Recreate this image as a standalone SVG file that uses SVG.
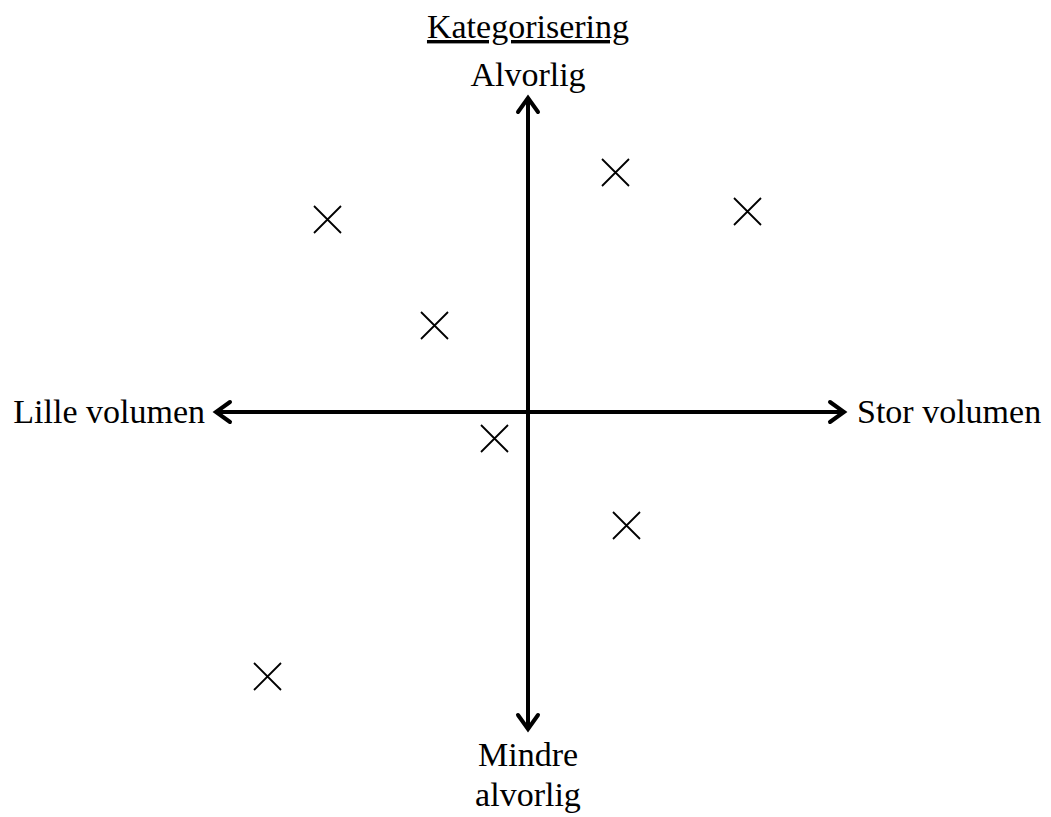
<svg xmlns="http://www.w3.org/2000/svg" width="1051" height="817" viewBox="0 0 1051 817">
<style>
text{font-family:"Liberation Serif","Times New Roman",serif;font-size:34px;fill:#000}
.ax{stroke:#000;stroke-width:4;fill:none}
.hd{stroke:#000;stroke-width:4;fill:none;stroke-linecap:round;stroke-linejoin:miter}
.x{stroke:#000;stroke-width:1.8;fill:none}
</style>
<rect width="1051" height="817" fill="#fff"/>
<g id="connectors">
<line class="ax" x1="528" y1="99" x2="528" y2="728"/>
<polyline class="hd" points="518,112 528,98 538,112"/>
<polyline class="hd" points="518,715 528,729 538,715"/>
<line class="ax" x1="217" y1="412" x2="843" y2="412"/>
<polyline class="hd" points="230,402 216,412 230,422"/>
<polyline class="hd" points="830,402 844,412 830,422"/>
</g>
<g id="title"><text x="528" y="38" text-anchor="middle" text-decoration="underline">Kategorisering</text></g>
<g id="top"><text x="528" y="86" text-anchor="middle">Alvorlig</text></g>
<g id="left"><text x="205" y="423" text-anchor="end">Lille volumen</text></g>
<g id="right"><text x="857" y="423">Stor volumen</text></g>
<g id="bottom"><text x="528" y="766" text-anchor="middle">Mindre</text><text x="528" y="806" text-anchor="middle">alvorlig</text></g>
<g id="marks">
<path class="x" d="M314,206 L341,233 M341,206 L314,233"/>
<path class="x" d="M421,312 L448,339 M448,312 L421,339"/>
<path class="x" d="M602,159 L629,186 M629,159 L602,186"/>
<path class="x" d="M734,198 L761,225 M761,198 L734,225"/>
<path class="x" d="M481,425 L508,452 M508,425 L481,452"/>
<path class="x" d="M613,512 L640,539 M640,512 L613,539"/>
<path class="x" d="M254,663 L281,690 M281,663 L254,690"/>
</g>
</svg>
